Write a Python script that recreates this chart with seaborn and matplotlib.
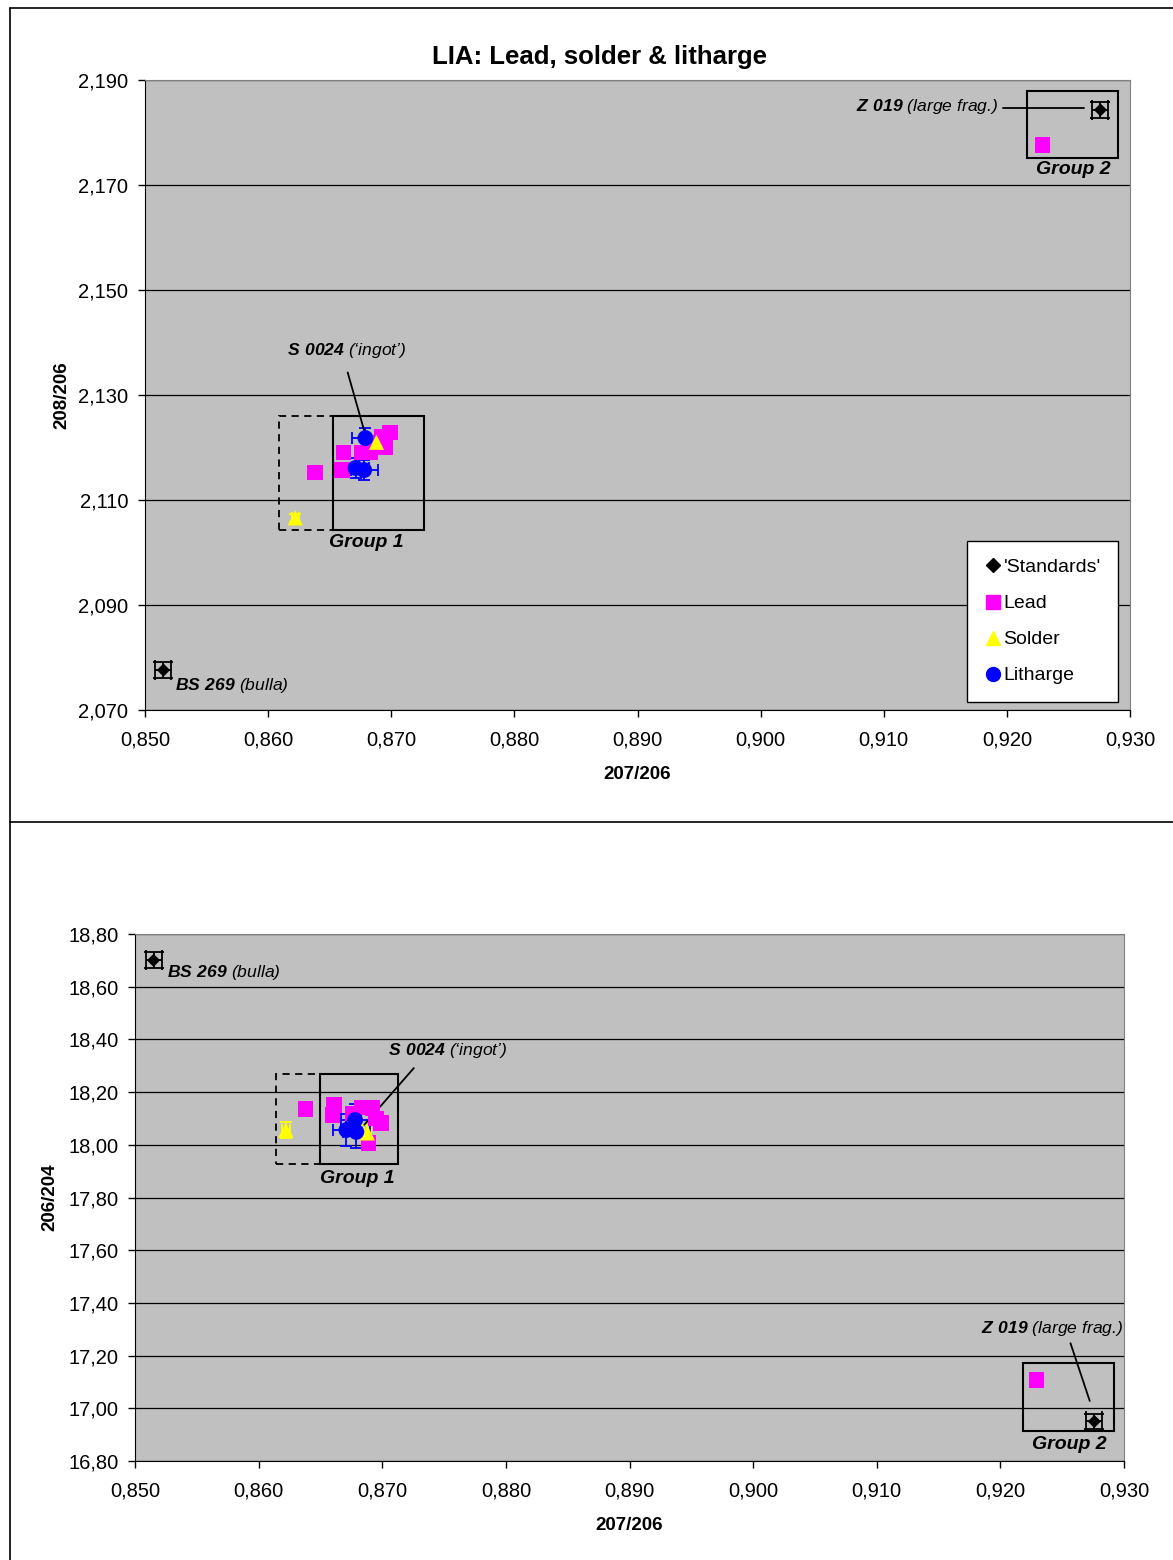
import pandas as pd
import seaborn as sns
import matplotlib.pyplot as plt
from matplotlib.patches import Rectangle
from matplotlib.lines import Line2D
from matplotlib.ticker import FuncFormatter, MultipleLocator

# Lead isotope ratios.
std_x = [0.8515, 0.9276]
std_208 = [2.0776, 2.1843]
std_206 = [18.70, 16.95]

lead_x = [0.8638, 0.8661, 0.8660, 0.8676, 0.8683, 0.8692, 0.8699, 0.8695, 0.8689, 0.9229]
lead_208 = [2.1153, 2.1190, 2.1157, 2.1190, 2.1191, 2.1220, 2.1228, 2.1201, 2.1209, 2.1776]
lead_206 = [18.136, 18.151, 18.113, 18.120, 18.143, 18.140, 18.083, 18.100, 18.007, 17.107]

solder_x = [0.8622, 0.8688]
solder_208 = [2.1066, 2.1210]
solder_206 = [18.056, 18.045]

litharge_x = [0.8679, 0.8671, 0.8678]
litharge_208 = [2.1218, 2.1161, 2.1157]
litharge_206 = [18.049, 18.056, 18.094]

top_yticks = [2.070, 2.090, 2.110, 2.130, 2.150, 2.170, 2.190]
bottom_yticks = [16.80, 17.00, 17.20, 17.40, 17.60, 17.80, 18.00, 18.20, 18.40, 18.60, 18.80]

groups = ["'Standards'", 'Lead', 'Solder', 'Litharge']
colors = {"'Standards'": 'black', 'Lead': '#FF00FF', 'Solder': '#FFFF00', 'Litharge': '#0000FF'}
markers = {"'Standards'": 'D', 'Lead': 's', 'Solder': '^', 'Litharge': 'o'}
sizes = {"'Standards'": 45, 'Lead': 120, 'Solder': 120, 'Litharge': 130}

# error bars (x, 208/206, 206/204)
errs = {"'Standards'": (0.00065, 0.0015, 0.03), 'Lead': (0.0003, 0.0008, 0.02),
        'Solder': (0.0003, 0.0008, 0.03), 'Litharge': (0.0011, 0.0019, 0.06)}

df = pd.concat([
    pd.DataFrame({'group': groups[0], 'r207': std_x, 'r208': std_208, 'r206': std_206}),
    pd.DataFrame({'group': groups[1], 'r207': lead_x, 'r208': lead_208, 'r206': lead_206}),
    pd.DataFrame({'group': groups[2], 'r207': solder_x, 'r208': solder_208, 'r206': solder_206}),
    pd.DataFrame({'group': groups[3], 'r207': litharge_x, 'r208': litharge_208, 'r206': litharge_206}),
], ignore_index=True)

sns.set_style('white')
plt.rcParams['font.family'] = ['Liberation Sans', 'DejaVu Sans']
plt.rcParams['mathtext.fontset'] = 'custom'
plt.rcParams['mathtext.bf'] = 'Liberation Sans:bold:italic'
plt.rcParams['mathtext.rm'] = 'Liberation Sans:italic'
for k in ['text.color', 'axes.labelcolor', 'xtick.color', 'ytick.color']:
    plt.rcParams[k] = 'black'

fig = plt.figure(figsize=(11.73, 15.6), dpi=100)
ax1 = fig.add_axes([145 / 1173, 1 - 710 / 1560, 985 / 1173, 630 / 1560])
ax2 = fig.add_axes([135 / 1173, 1 - 1461 / 1560, 989 / 1173, 527 / 1560])

# panel frames
fig.add_artist(Line2D([10 / 1173, 10 / 1173], [0, 1 - 8 / 1560], transform=fig.transFigure, color='black', lw=1.2))
fig.add_artist(Line2D([10 / 1173, 1], [1 - 8 / 1560, 1 - 8 / 1560], transform=fig.transFigure, color='black', lw=1.2))
fig.add_artist(Line2D([10 / 1173, 1], [1 - 822 / 1560, 1 - 822 / 1560], transform=fig.transFigure, color='black', lw=1.2))


def comma(dec):
    return FuncFormatter(lambda v, p: f'{v:.{dec}f}'.replace('.', ','))


def draw(ax, ycol, eidx):
    ax.set_facecolor('#C0C0C0')
    for g in groups:
        d = df[df['group'] == g]
        ex, ey = errs[g][0], errs[g][eidx]
        ax.errorbar(d['r207'], d[ycol], xerr=ex, yerr=ey, fmt='none', ecolor=colors[g],
                    elinewidth=1.3, capsize=4 if g != "'Standards'" else 7, capthick=1.3, zorder=3)
    sns.scatterplot(data=df, x='r207', y=ycol, hue='group', style='group', size='group',
                    palette=colors, markers=markers, sizes=sizes, hue_order=groups,
                    style_order=groups, size_order=groups, edgecolor='none',
                    linewidth=0, ax=ax, zorder=4, legend=False)
    ax.set_xlim(0.850, 0.930)
    ax.xaxis.set_major_locator(MultipleLocator(0.01))
    ax.xaxis.set_major_formatter(comma(3))
    ax.grid(axis='y', color='black', lw=0.9)
    ax.set_axisbelow(True)
    for s in ['top', 'right']:
        ax.spines[s].set_color('#808080')
    for s in ['left', 'bottom']:
        ax.spines[s].set_color('black')
    ax.tick_params(axis='both', direction='out', length=5, width=1, labelsize=14.5,
                   bottom=True, left=True, color='black')
    ax.tick_params(axis='x', pad=10)
    ax.tick_params(axis='y', pad=7)
    ax.set_xlabel('207/206', fontsize=13.5, fontweight='bold', labelpad=12)


# --- top chart ---
draw(ax1, 'r208', 1)
ax1.set_ylim(2.070, 2.190)
ax1.set_yticks(top_yticks)
ax1.yaxis.set_major_formatter(comma(3))
ax1.set_ylabel('208/206', fontsize=13.5, fontweight='bold', labelpad=6)
fig.text(600 / 1173, 1 - 57 / 1560, 'LIA: Lead, solder & litharge', fontsize=18.5, fontweight='bold',
         ha='center', va='center')

ax1.add_patch(Rectangle((0.8653, 2.1043), 0.0074, 0.0217, fill=False, ec='black', lw=1.5, zorder=5))
ax1.add_patch(Rectangle((0.8609, 2.1043), 0.0044, 0.0217, fill=False, ec='black', lw=1.3, ls=(0, (4, 3)), zorder=5))
ax1.add_patch(Rectangle((0.9216, 2.1751), 0.0074, 0.0128, fill=False, ec='black', lw=1.5, zorder=5))
ax1.text(0.8680, 2.1020, 'Group 1', fontsize=14, fontweight='bold', style='italic', ha='center', va='center')
ax1.text(0.9254, 2.1729, 'Group 2', fontsize=14, fontweight='bold', style='italic', ha='center', va='center')
ax1.annotate('', xy=(0.8679, 2.1224), xytext=(0.8664, 2.1348),
             arrowprops=dict(arrowstyle='-', color='black', lw=1.3))
ax1.text(0.86153, 2.1384, r"$\bf{S\ 0024}$ (‘ingot’)", fontsize=12.6, style='italic', va='center')
ax1.plot([0.9197, 0.9263], [2.1846, 2.1846], color='black', lw=1.3)
ax1.text(0.9193, 2.1849, r"$\bf{Z\ 019}$ (large frag.)", fontsize=12.6, style='italic', ha='right', va='center')
ax1.text(0.8524, 2.0746, r"$\bf{BS\ 269}$ (bulla)", fontsize=12.6, style='italic', va='center')

handles = [Line2D([], [], ls='none', marker=markers[g], color=colors[g], markersize=10 if g != "'Standards'" else 7)
           for g in groups]
leg = ax1.legend(handles, groups, loc='lower right', bbox_to_anchor=(0.988, 0.0127), fontsize=14,
                 frameon=True, fancybox=False, edgecolor='black', framealpha=1, handlelength=0.8,
                 handletextpad=0.15, labelspacing=0.95, borderpad=0.9, borderaxespad=0)
leg.get_frame().set_linewidth(1)

# --- bottom chart ---
draw(ax2, 'r206', 2)
ax2.set_ylim(16.80, 18.80)
ax2.set_yticks(bottom_yticks)
ax2.yaxis.set_major_formatter(comma(2))
ax2.set_ylabel('206/204', fontsize=13.5, fontweight='bold', labelpad=7)

ax2.add_patch(Rectangle((0.8650, 17.927), 0.0063, 0.342, fill=False, ec='black', lw=1.5, zorder=5))
ax2.add_patch(Rectangle((0.8614, 17.927), 0.0036, 0.342, fill=False, ec='black', lw=1.3, ls=(0, (4, 3)), zorder=5))
ax2.add_patch(Rectangle((0.9218, 16.914), 0.0074, 0.258, fill=False, ec='black', lw=1.5, zorder=5))
ax2.text(0.8680, 17.874, 'Group 1', fontsize=14, fontweight='bold', style='italic', ha='center', va='center')
ax2.text(0.9256, 16.861, 'Group 2', fontsize=14, fontweight='bold', style='italic', ha='center', va='center')
ax2.annotate('', xy=(0.8684, 18.068), xytext=(0.8727, 18.299),
             arrowprops=dict(arrowstyle='-', color='black', lw=1.3))
ax2.text(0.8705, 18.356, r"$\bf{S\ 0024}$ (‘ingot’)", fontsize=12.6, style='italic', va='center')
ax2.annotate('', xy=(0.9273, 17.018), xytext=(0.9256, 17.257),
             arrowprops=dict(arrowstyle='-', color='black', lw=1.3))
ax2.text(0.9299, 17.301, r"$\bf{Z\ 019}$ (large frag.)", fontsize=12.6, style='italic', ha='right', va='center')
ax2.text(0.8526, 18.652, r"$\bf{BS\ 269}$ (bulla)", fontsize=12.6, style='italic', va='center')

fig.savefig('out.png', dpi=100)
